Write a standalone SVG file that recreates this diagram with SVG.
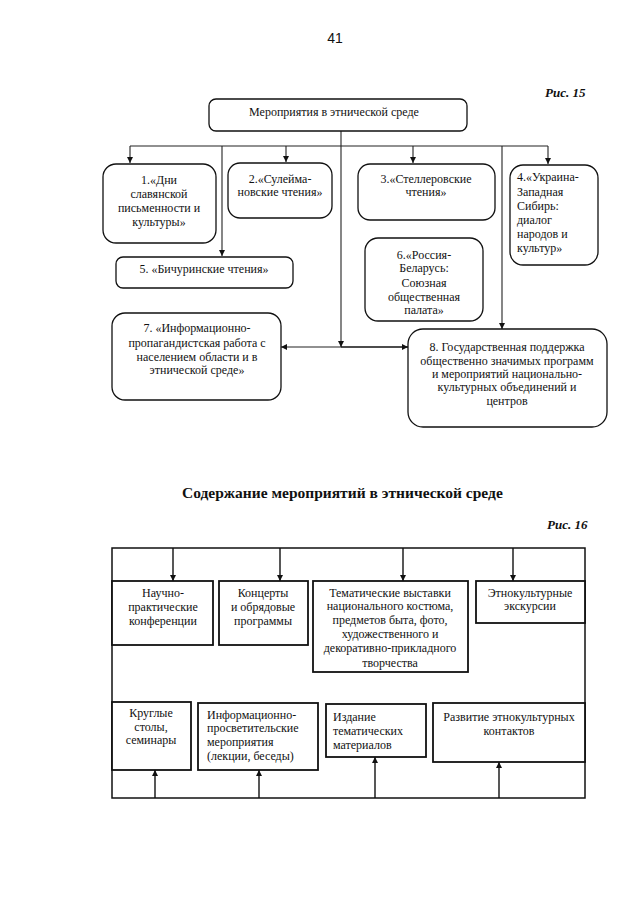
<svg xmlns="http://www.w3.org/2000/svg" width="640" height="905" viewBox="0 0 640 905">
<style>
text{font-family:"Liberation Serif","DejaVu Serif",serif;font-size:12px;fill:#111}
.c{text-anchor:middle}
.rb{fill:#fff;stroke:#111;stroke-width:1.3}
.sb{fill:#fff;stroke:#111;stroke-width:1.8}
.ln{fill:none;stroke:#222;stroke-width:1.1}
.ln2{fill:none;stroke:#111;stroke-width:1.4}
.pg{font-family:"Liberation Sans",Arial,sans-serif;font-size:14px}
.fig{font-weight:bold;font-style:italic;font-size:13px}
.ttl{font-weight:bold;font-size:15.5px}
</style>
<defs>
<marker id="ah" viewBox="0 0 10 10" refX="10" refY="5" markerWidth="6" markerHeight="7" markerUnits="userSpaceOnUse" orient="auto">
<path d="M0,0 L10,5 L0,10 z" fill="#111"/>
</marker>
</defs>
<rect width="640" height="905" fill="#fff"/>
<text class="pg c" x="335" y="43">41</text>
<text class="fig" x="545" y="97">Рис. 15</text>

<g id="connectors15">
<path class="ln" d="M341,131 V347" marker-end="url(#ah)"/>
<path class="ln" d="M130,146 H548"/>
<path class="ln" d="M130,146 V163" marker-end="url(#ah)"/>
<path class="ln" d="M222,146 V256" marker-end="url(#ah)"/>
<path class="ln" d="M286,146 V162" marker-end="url(#ah)"/>
<path class="ln" d="M413,146 V163" marker-end="url(#ah)"/>
<path class="ln" d="M502,146 V329" marker-end="url(#ah)"/>
<path class="ln" d="M548,146 V164" marker-end="url(#ah)"/>
<path class="ln" d="M341,347 H281" marker-end="url(#ah)"/>
<path class="ln2" d="M341,347 H408" marker-end="url(#ah)"/>
</g>

<g id="root">
<rect class="rb" x="209" y="99" width="258" height="32" rx="7"/>
<text class="c" x="334" y="116">Мероприятия в этнической среде</text>
</g>
<g id="n1">
<rect class="rb" x="103" y="164" width="113" height="79" rx="13"/>
<text class="c" x="159" y="184">1.«Дни</text>
<text class="c" x="159" y="198">славянской</text>
<text class="c" x="159" y="212">письменности и</text>
<text class="c" x="159" y="226">культуры»</text>
</g>
<g id="n2">
<rect class="rb" x="228" y="163" width="104" height="55" rx="12"/>
<text class="c" x="280" y="183">2.«Сулейма-</text>
<text class="c" x="280" y="196">новские чтения»</text>
</g>
<g id="n3">
<rect class="rb" x="358" y="164" width="137" height="56" rx="12"/>
<text class="c" x="426" y="183">3.«Стеллеровские</text>
<text class="c" x="426" y="196">чтения»</text>
</g>
<g id="n4">
<rect class="rb" x="510" y="165" width="88" height="100" rx="13"/>
<text x="517" y="181">4.«Украина-</text>
<text x="517" y="196">Западная</text>
<text x="517" y="210">Сибирь:</text>
<text x="517" y="224">диалог</text>
<text x="517" y="238">народов и</text>
<text x="517" y="252">культур»</text>
</g>
<g id="n5">
<rect class="rb" x="116" y="257" width="177" height="31" rx="7"/>
<text class="c" x="204" y="273">5. «Бичуринские чтения»</text>
</g>
<g id="n6">
<rect class="rb" x="365" y="238" width="118" height="83" rx="13"/>
<text class="c" x="424" y="259">6.«Россия-</text>
<text class="c" x="424" y="272">Беларусь:</text>
<text class="c" x="424" y="287">Союзная</text>
<text class="c" x="424" y="301">общественная</text>
<text class="c" x="424" y="314">палата»</text>
</g>
<g id="n7">
<rect class="rb" x="112" y="313" width="169" height="87" rx="13"/>
<text class="c" x="197" y="332">7. «Информационно-</text>
<text class="c" x="197" y="347">пропагандистская работа с</text>
<text class="c" x="197" y="361">населением области и в</text>
<text class="c" x="197" y="374">этнической среде»</text>
</g>
<g id="n8">
<rect class="rb" x="408" y="329" width="199" height="98" rx="15"/>
<text class="c" x="507" y="351">8. Государственная поддержка</text>
<text class="c" x="507" y="365">общественно значимых программ</text>
<text class="c" x="507" y="378">и мероприятий национально-</text>
<text class="c" x="507" y="391">культурных объединений и</text>
<text class="c" x="507" y="405">центров</text>
</g>

<text class="ttl" x="182" y="498">Содержание мероприятий в этнической среде</text>
<text class="fig" x="547" y="529">Рис. 16</text>

<g id="frame16">
<rect x="112" y="548" width="473" height="250" fill="none" stroke="#111" stroke-width="1.5"/>
</g>
<g id="connectors16">
<path class="ln2" d="M173,548 V581" marker-end="url(#ah)"/>
<path class="ln2" d="M280,548 V581" marker-end="url(#ah)"/>
<path class="ln2" d="M403,548 V581" marker-end="url(#ah)"/>
<path class="ln2" d="M513,548 V581" marker-end="url(#ah)"/>
<path class="ln2" d="M155,798 V770" marker-end="url(#ah)"/>
<path class="ln2" d="M259,798 V770" marker-end="url(#ah)"/>
<path class="ln2" d="M375,798 V757" marker-end="url(#ah)"/>
<path class="ln2" d="M499,798 V762" marker-end="url(#ah)"/>
</g>
<g id="a">
<rect class="sb" x="112" y="581" width="101" height="64"/>
<text class="c" x="163" y="597">Научно-</text>
<text class="c" x="163" y="611">практические</text>
<text class="c" x="163" y="625">конференции</text>
</g>
<g id="b">
<rect class="sb" x="219" y="581" width="89" height="64"/>
<text class="c" x="263" y="597">Концерты</text>
<text class="c" x="263" y="611">и обрядовые</text>
<text class="c" x="263" y="625">программы</text>
</g>
<g id="c">
<rect class="sb" x="313" y="581" width="155" height="91"/>
<text class="c" x="390" y="597">Тематические выставки</text>
<text class="c" x="390" y="610">национального костюма,</text>
<text class="c" x="390" y="624">предметов быта, фото,</text>
<text class="c" x="390" y="638">художественного и</text>
<text class="c" x="390" y="652">декоративно-прикладного</text>
<text class="c" x="390" y="667">творчества</text>
</g>
<g id="d">
<rect class="sb" x="476" y="581" width="109" height="42"/>
<text class="c" x="530" y="597">Этнокультурные</text>
<text class="c" x="530" y="610">экскурсии</text>
</g>
<g id="e">
<rect class="sb" x="112" y="702" width="79" height="68"/>
<text class="c" x="151" y="717">Круглые</text>
<text class="c" x="151" y="731">столы,</text>
<text class="c" x="151" y="744">семинары</text>
</g>
<g id="f">
<rect class="sb" x="198" y="703" width="120" height="67"/>
<text x="207" y="719">Информационно-</text>
<text x="207" y="732">просветительские</text>
<text x="207" y="746">мероприятия</text>
<text x="207" y="760">(лекции, беседы)</text>
</g>
<g id="g">
<rect class="sb" x="326" y="704" width="100" height="53"/>
<text x="333" y="721">Издание</text>
<text x="333" y="735">тематических</text>
<text x="333" y="749">материалов</text>
</g>
<g id="h">
<rect class="sb" x="433" y="703" width="152" height="59"/>
<text class="c" x="509" y="721">Развитие этнокультурных</text>
<text class="c" x="509" y="735">контактов</text>
</g>
</svg>
